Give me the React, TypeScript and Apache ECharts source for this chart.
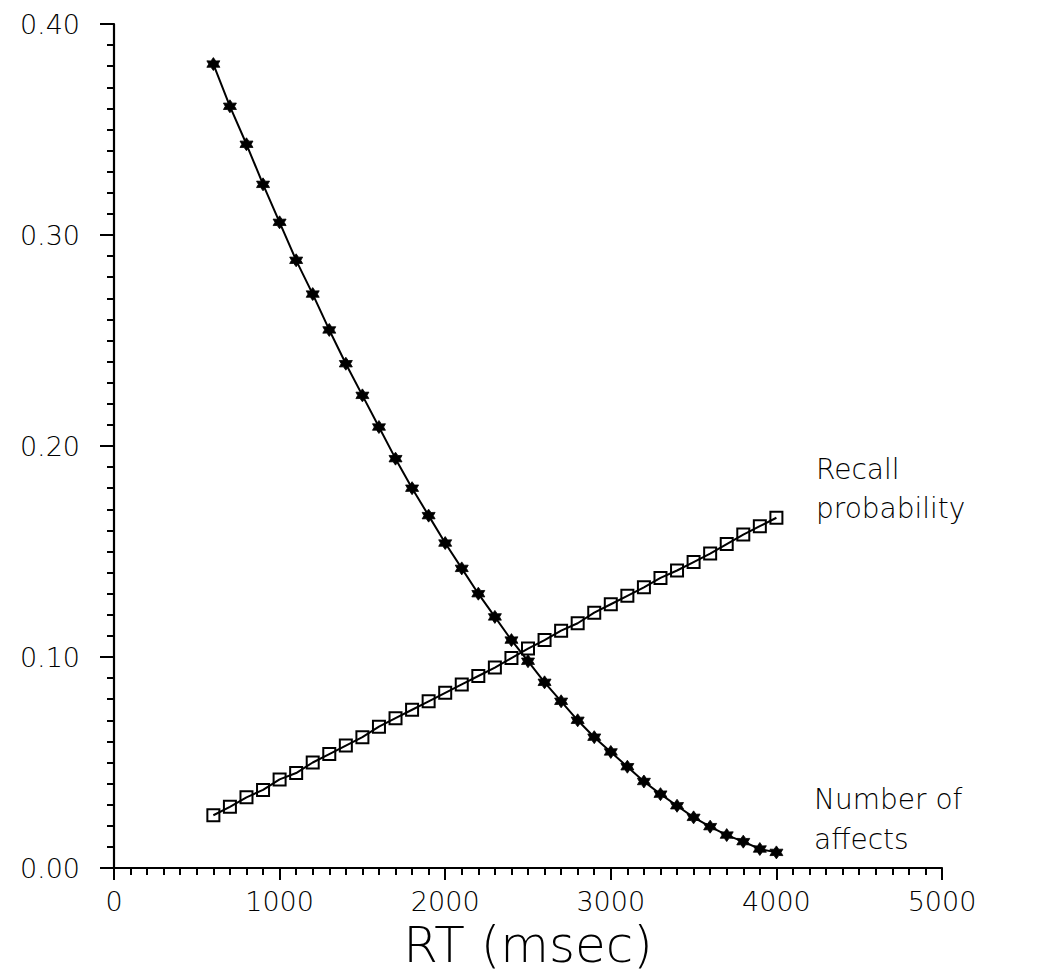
import React, { useEffect, useRef } from "react";
import * as echarts from "echarts";

const rtValues = [600, 700, 800, 900, 1000, 1100, 1200, 1300, 1400, 1500, 1600, 1700, 1800, 1900, 2000, 2100, 2200, 2300, 2400, 2500, 2600, 2700, 2800, 2900, 3000, 3100, 3200, 3300, 3400, 3500, 3600, 3700, 3800, 3900, 4000];

const recallProbability = [0.025, 0.029, 0.0335, 0.037, 0.042, 0.045, 0.050, 0.054, 0.058, 0.062, 0.067, 0.071, 0.075, 0.079, 0.083, 0.087, 0.091, 0.095, 0.0995, 0.104, 0.108, 0.1125, 0.116, 0.121, 0.125, 0.129, 0.133, 0.1375, 0.141, 0.145, 0.149, 0.1535, 0.158, 0.162, 0.166];

const numberOfAffects = [0.381, 0.361, 0.343, 0.324, 0.306, 0.288, 0.272, 0.255, 0.239, 0.224, 0.209, 0.194, 0.180, 0.167, 0.154, 0.142, 0.130, 0.119, 0.108, 0.098, 0.088, 0.079, 0.070, 0.062, 0.055, 0.048, 0.041, 0.035, 0.0295, 0.024, 0.0196, 0.0156, 0.0125, 0.009, 0.0074];

const xTickLabels = ["0", "1000", "2000", "3000", "4000", "5000"];
const yTickLabels = ["0.00", "0.10", "0.20", "0.30", "0.40"];

const FONT = "'DejaVu Sans', sans-serif";
const STAR =
  "path://M10 0 L13.2 5.2 L18.66 5 L16.2 10 L18.66 15 L13.2 14.8 L10 20 L6.8 14.8 L1.34 15 L3.8 10 L1.34 5 L6.8 5.2 Z";

export default function App() {
  const ref = useRef<HTMLDivElement>(null);
  useEffect(() => {
    document.body.style.margin = "0";
    if (!ref.current) return;
    const chart = echarts.init(ref.current, null, { renderer: "svg" });
    const axisCommon = {
      axisLine: { show: true, lineStyle: { color: "#000", width: 2.2 } },
      splitLine: { show: false },
    };
    chart.setOption({
      animation: false,
      backgroundColor: "#fff",
      grid: { left: 114, right: 99, top: 24, bottom: 111, containLabel: false },
      xAxis: {
        type: "value",
        min: 0,
        max: 5000,
        interval: 1000,
        ...axisCommon,
        axisTick: { show: true, inside: false, length: 12, lineStyle: { color: "#000", width: 2 } },
        minorTick: { show: true, splitNumber: 10, length: 7, lineStyle: { color: "#000", width: 2 } },
        axisLabel: {
          margin: 20,
          fontFamily: FONT,
          fontWeight: 200,
          fontSize: 27,
          color: "#000",
          formatter: (v: number) => xTickLabels[Math.round(v / 1000)] ?? "",
        },
        name: "RT (msec)",
        nameLocation: "middle",
        nameGap: 44,
        nameTextStyle: { fontFamily: FONT, fontWeight: 200, fontSize: 50, color: "#000" },
      },
      yAxis: {
        type: "value",
        min: 0,
        max: 0.4,
        interval: 0.1,
        ...axisCommon,
        axisTick: { show: true, inside: false, length: 14, lineStyle: { color: "#000", width: 2 } },
        minorTick: { show: true, splitNumber: 10, length: 7, lineStyle: { color: "#000", width: 2 } },
        axisLabel: {
          margin: 34,
          fontFamily: FONT,
          fontWeight: 200,
          fontSize: 27,
          color: "#000",
          formatter: (v: number) => yTickLabels[Math.round(v * 10)] ?? "",
        },
      },
      series: [
        {
          name: "Recall probability",
          type: "line",
          data: rtValues.map((x, i) => [x, recallProbability[i]]),
          symbol: "rect",
          symbolSize: 12,
          showAllSymbol: true,
          lineStyle: { color: "#000", width: 2 },
          itemStyle: { color: "rgba(255,255,255,0)", borderColor: "#000", borderWidth: 2 },
          z: 3,
        },
        {
          name: "Number of affects",
          type: "line",
          data: rtValues.map((x, i) => [x, numberOfAffects[i]]),
          symbol: STAR,
          symbolSize: 13,
          showAllSymbol: true,
          lineStyle: { color: "#000", width: 2 },
          itemStyle: { color: "#000", borderColor: "#000", borderWidth: 0.8 },
          z: 4,
        },
      ],
      graphic: [
        {
          type: "text",
          left: 816,
          top: 450,
          style: {
            text: "Recall\nprobability",
            fontFamily: FONT,
            fontWeight: 200,
            fontSize: 28,
            lineHeight: 39,
            fill: "#000",
          },
        },
        {
          type: "text",
          left: 814,
          top: 779,
          style: {
            text: "Number of\naffects",
            fontFamily: FONT,
            fontWeight: 200,
            fontSize: 28,
            lineHeight: 40,
            fill: "#000",
          },
        },
      ],
    });
    return () => chart.dispose();
  }, []);
  return <div ref={ref} style={{ width: 1041, height: 979 }} />;
}
